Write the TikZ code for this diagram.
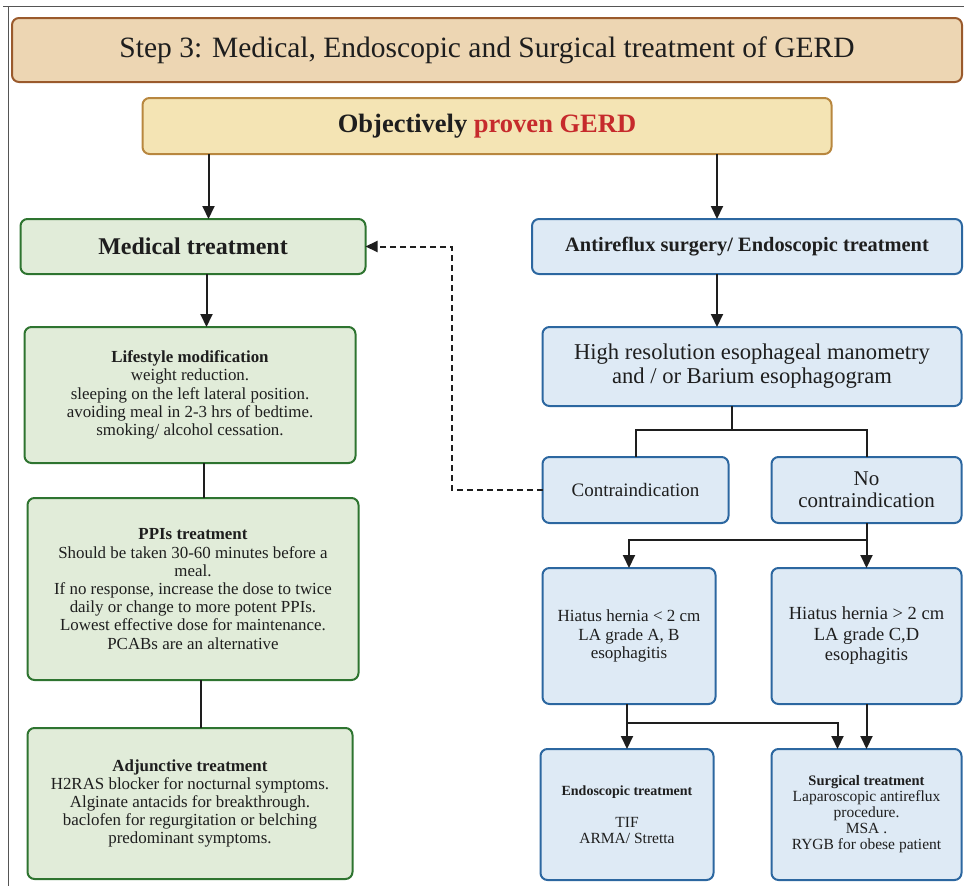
\documentclass[tikz,border=0pt]{standalone}
\usepackage{fontspec}
\setmainfont{Liberation Serif}
\usetikzlibrary{arrows.meta,positioning}
\definecolor{ink}{HTML}{1E1E1E}
\definecolor{framegray}{HTML}{555555}
\definecolor{titlefill}{HTML}{EDD6B3}
\definecolor{titledraw}{HTML}{9A5A2C}
\definecolor{objfill}{HTML}{F4E4B4}
\definecolor{objdraw}{HTML}{B8873F}
\definecolor{gerdred}{HTML}{C62A2C}
\definecolor{greenfill}{HTML}{E1ECD9}
\definecolor{greendraw}{HTML}{2E7430}
\definecolor{bluefill}{HTML}{DEEAF5}
\definecolor{bluedraw}{HTML}{2C67A0}

\begin{document}
\begin{tikzpicture}[x=1pt,y=1pt,
  box/.style={draw,rounded corners=7pt,line width=2pt,outer sep=0pt,
    inner sep=0pt,align=center,text=ink},
  titlebox/.style={box,draw=titledraw,fill=titlefill,minimum width=950pt,
    minimum height=64pt,font=\fontsize{29.5}{32}\selectfont},
  objbox/.style={box,draw=objdraw,fill=objfill,minimum width=689pt,
    minimum height=56pt,font=\fontsize{26.5}{30}\selectfont},
  greenbox/.style={box,draw=greendraw,fill=greenfill,
    font=\fontsize{16.9}{18.2}\selectfont},
  bluebox/.style={box,draw=bluedraw,fill=bluefill},
  arr/.style={-{Triangle[length=13pt,width=12pt]},line width=2pt,draw=ink},
  link/.style={line width=2pt,draw=ink},
  dasharr/.style={-{Triangle[length=12pt,width=11pt]},line width=2pt,draw=ink,
    dash pattern=on 6pt off 4pt}
]
\useasboundingbox (0,0) rectangle (964,-886);
\draw[framegray,line width=1pt] (3,-6) -- (964,-6);
\draw[framegray,line width=1pt] (8,-6) -- (8,-886);

\node[titlebox] (title) at (487,-50)
  {Step 3: Medical, Endoscopic and Surgical treatment of GERD};
\node[objbox,below=16pt of title] (objective)
  {\textbf{Objectively \textcolor{gerdred}{proven GERD}}};

% left branch
\node[greenbox,minimum width=345pt,minimum height=55pt,
  font=\fontsize{24}{28}\selectfont,below=65pt of objective,xshift=-294pt]
  (medical) {\textbf{Medical treatment}};
\node[greenbox,minimum width=331pt,minimum height=136pt,
  below=53pt of medical,xshift=-3pt] (lifestyle)
  {\textbf{Lifestyle modification}\\weight reduction.\\
   sleeping on the left lateral position.\\
   avoiding meal in 2-3 hrs of bedtime.\\smoking/ alcohol cessation.};
\node[greenbox,minimum width=331pt,minimum height=182pt,
  below=35pt of lifestyle,xshift=3pt] (ppis)
  {\textbf{PPIs treatment}\\Should be taken 30-60 minutes before a\\meal.\\
   If no response, increase the dose to twice\\
   daily or change to more potent PPIs.\\
   Lowest effective dose for maintenance.\\PCABs are an alternative};
\node[greenbox,minimum width=325pt,minimum height=151pt,
  below=48pt of ppis,xshift=-3pt] (adjunct)
  {\textbf{Adjunctive treatment}\\H2RAS blocker for nocturnal symptoms.\\
   Alginate antacids for breakthrough.\\
   baclofen for regurgitation or belching\\predominant symptoms.};

% right branch
\node[bluebox,minimum width=430pt,minimum height=55pt,
  font=\fontsize{20.4}{24}\selectfont,right=166.5pt of medical] (antireflux)
  {\textbf{Antireflux surgery/ Endoscopic treatment}};
\node[bluebox,minimum width=419pt,minimum height=79pt,
  font=\fontsize{22.6}{24}\selectfont,below=53pt of antireflux,xshift=5pt] (hrm)
  {High resolution esophageal manometry\\and / or Barium esophagogram};
\node[bluebox,minimum width=186pt,minimum height=66pt,
  font=\fontsize{19}{22}\selectfont,below=51pt of hrm.south west,
  anchor=north west] (contra) {Contraindication};
\node[bluebox,minimum width=190pt,minimum height=66pt,
  font=\fontsize{21}{22}\selectfont,right=43pt of contra] (nocontra)
  {No\\contraindication};
\node[bluebox,minimum width=173pt,minimum height=136pt,
  font=\fontsize{17}{18.5}\selectfont,below=45pt of contra.south west,
  anchor=north west] (hiatussmall)
  {Hiatus hernia < 2 cm\\LA grade A, B\\esophagitis};
\node[bluebox,minimum width=190pt,minimum height=136pt,
  font=\fontsize{18.5}{20.5}\selectfont,below=45pt of nocontra] (hiatuslarge)
  {Hiatus hernia > 2 cm\\LA grade C,D\\esophagitis};
\node[bluebox,minimum width=173pt,minimum height=131pt,
  font=\fontsize{15.5}{16}\selectfont,below=45pt of hiatussmall,xshift=-2pt]
  (endo) {{\fontsize{14}{16}\selectfont\textbf{Endoscopic treatment}}\\[16pt]
   TIF\\ARMA/ Stretta};
\node[bluebox,minimum width=190pt,minimum height=131pt,
  font=\fontsize{15.5}{16}\selectfont,below=45pt of hiatuslarge] (surg)
  {{\fontsize{14.5}{16}\selectfont\textbf{Surgical treatment}}\\
   Laparoscopic antireflux\\procedure.\\MSA .\\RYGB for obese patient};

% branch points
\coordinate (splithrm) at ([xshift=-20.5pt,yshift=-24pt]hrm.south);
\coordinate (splitno) at ([yshift=-17pt]nocontra.south);
\coordinate (splithh) at ([yshift=-19pt]hiatussmall.south -| endo.north);
\coordinate (back) at ([xshift=-91pt]contra.west);

\draw[arr] ([xshift=15.5pt]medical.north |- objective.south)
  -- ([xshift=15.5pt]medical.north);
\draw[arr] ([xshift=-30pt]antireflux.north |- objective.south)
  -- ([xshift=-30pt]antireflux.north);
\draw[arr] ([xshift=13.5pt]medical.south)
  -- ([xshift=13.5pt]medical.south |- lifestyle.north);
\draw[link] ([xshift=13.5pt]lifestyle.south)
  -- ([xshift=13.5pt]lifestyle.south |- ppis.north);
\draw[link] ([xshift=7.5pt]ppis.south)
  -- ([xshift=7.5pt]ppis.south |- adjunct.north);

\draw[arr] ([xshift=-30pt]antireflux.south)
  -- ([xshift=-30pt]antireflux.south |- hrm.north);
\draw[link] (splithrm |- hrm.south) -- (splithrm);
\draw[link] (contra.north) |- (splithrm) -| (nocontra.north);
\draw[dasharr] (contra.west) -- (back) |- (medical.east);
\draw[arr] (nocontra.south) -- (hiatuslarge.north);
\draw[arr] (splitno) -| (hiatussmall.north);
\draw[arr] (endo.north |- hiatussmall.south) -- (endo.north);
\draw[arr] (splithh) -| ([xshift=-29pt]surg.north);
\draw[arr] (hiatuslarge.south) -- (surg.north);
\end{tikzpicture}
\end{document}
